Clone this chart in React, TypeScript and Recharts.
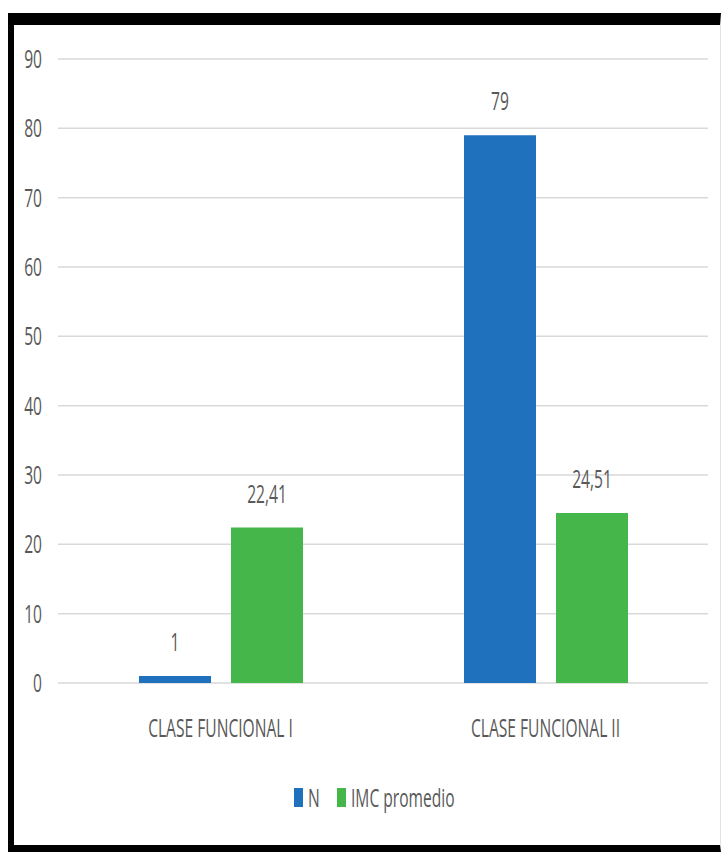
import { BarChart, Bar, XAxis, YAxis, CartesianGrid, Legend, LabelList } from "recharts"

const categories = ["CLASE FUNCIONAL I", "CLASE FUNCIONAL II"]
const nValues = [1, 79]
const imcValues = [22.41, 24.51]
const yTicks = [0, 10, 20, 30, 40, 50, 60, 70, 80, 90]
const seriesNames = ["N", "IMC promedio"]

const data = categories.map((clase, i) => ({ clase, n: nValues[i], imc: imcValues[i] }))

const FONT = "'Open Sans', 'Liberation Sans', sans-serif"
const GRAY = "#595959"
const SQUISH = 0.6

const fmt = (v: number) => String(v).replace(".", ",")

// text squeezed horizontally, like the narrow Calibri in the original
const SquishText = ({ x, y, anchor, children }: any) => (
  <g transform={`translate(${x},${y})`}>
    <text transform={`scale(${SQUISH},1)`} textAnchor={anchor} fontFamily={FONT} fontSize={26} fill={GRAY}>
      {children}
    </text>
  </g>
)

const YTick = ({ x, y, payload }: any) => (
  <SquishText x={x} y={y + 9} anchor="end">{payload.value}</SquishText>
)

const XTick = ({ x, y, payload }: any) => (
  <SquishText x={x} y={y + 48} anchor="middle">{payload.value}</SquishText>
)

const ValueLabel = ({ x, y, width, value }: any) => (
  <SquishText x={x + width / 2} y={y - 25} anchor="middle">{fmt(value)}</SquishText>
)

// left edge of each legend item, in series order
const legendX = [280, 323]

const LegendBox = ({ payload }: any) => (
  <div style={{ height: 62 }}>
    <svg width={694} height={62} style={{ overflow: "visible" }}>
      {(payload || []).map((item: any) => {
        const i = Math.max(0, seriesNames.indexOf(item.value))
        return (
          <g key={item.value}>
            <rect x={legendX[i]} y={5} width={9} height={19} fill={item.color} />
            <SquishText x={legendX[i] + 14} y={24} anchor="start">{item.value}</SquishText>
          </g>
        )
      })}
    </svg>
  </div>
)

export default function App() {
  return (
    <div
      style={{
        position: "absolute",
        left: 8,
        top: 13,
        width: 713,
        height: 839,
        boxSizing: "border-box",
        borderTop: "12px solid #000",
        borderLeft: "6px solid #000",
        borderBottom: "7px solid #000",
        borderRight: "1px solid #e3e3e3",
        background: "#fff",
      }}
    >
      <BarChart
        width={706}
        height={820}
        data={data}
        margin={{ top: 34, right: 12, left: 0, bottom: 0 }}
        barSize={72}
        barGap={20}
      >
        <CartesianGrid vertical={false} stroke="#d9d9d9" strokeWidth={1.5} />
        <XAxis dataKey="clase" axisLine={false} tickLine={false} tickMargin={0} height={100} tick={<XTick />} interval={0} />
        <YAxis
          domain={[0, 90]}
          ticks={yTicks}
          width={44}
          axisLine={false}
          tickLine={false}
          tickMargin={10}
          tick={<YTick />}
        />
        <Legend verticalAlign="bottom" content={<LegendBox />} />
        <Bar dataKey="n" name={seriesNames[0]} fill="#1F71BE" isAnimationActive={false}>
          <LabelList dataKey="n" content={<ValueLabel />} />
        </Bar>
        <Bar dataKey="imc" name={seriesNames[1]} fill="#45B649" isAnimationActive={false}>
          <LabelList dataKey="imc" content={<ValueLabel />} />
        </Bar>
      </BarChart>
    </div>
  )
}
